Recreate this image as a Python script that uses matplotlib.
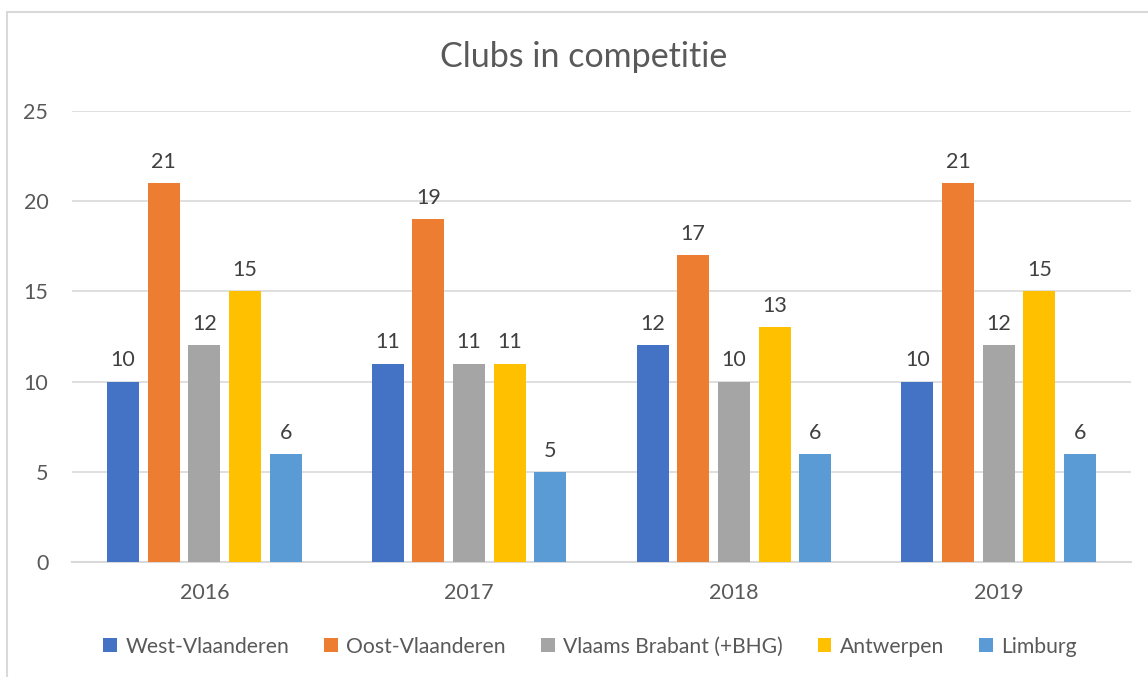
import matplotlib.pyplot as plt
import matplotlib.patches as patches
import numpy as np

plt.rcParams['font.family'] = ['Lato', 'DejaVu Sans']

# ------------------------------ data ------------------------------
years = ['2016', '2017', '2018', '2019']
provinces = ['West-Vlaanderen', 'Oost-Vlaanderen', 'Vlaams Brabant (+BHG)',
             'Antwerpen', 'Limburg']
west_vl = [10, 11, 12, 10]
oost_vl = [21, 19, 17, 21]
vl_brabant = [12, 11, 10, 12]
antwerpen = [15, 11, 13, 15]
limburg = [6, 5, 6, 6]
series = [west_vl, oost_vl, vl_brabant, antwerpen, limburg]
colors = ['#4472C4', '#ED7D31', '#A5A5A5', '#FFC000', '#5B9BD5']

text_col = '#595959'
grid_col = '#D9D9D9'

# ------------------------------ figure ------------------------------
fig = plt.figure(figsize=(11.48, 6.77), dpi=100)
ax = fig.add_axes([0.0627, 0.1699, 0.9225, 0.6662])

x = np.arange(len(years))
step = 0.1536
width = 0.121
for k, (vals, col, name) in enumerate(zip(series, colors, provinces)):
    pos = x + (k - 2) * step
    bars = ax.bar(pos, vals, width, color=col, label=name, zorder=3)
    for b, v in zip(bars, vals):
        ax.annotate(f'{v}', (b.get_x() + b.get_width() / 2, v),
                    xytext=(0, 8), textcoords='offset points',
                    ha='center', va='bottom', fontsize=15.5, color='#404040')

ax.set_xlim(-0.5, len(years) - 0.5)
ax.set_ylim(0, 25)
ax.set_yticks(range(0, 26, 5))
ax.set_xticks(x)
ax.set_xticklabels(years)
ax.yaxis.grid(True, color=grid_col, linewidth=1.2, zorder=0)
ax.tick_params(axis='both', length=0, labelsize=15.5, colors=text_col)
ax.tick_params(axis='x', pad=15)
ax.tick_params(axis='y', pad=17)
for s in ['top', 'right', 'left']:
    ax.spines[s].set_visible(False)
ax.spines['bottom'].set_color(grid_col)
ax.spines['bottom'].set_linewidth(1.5)

fig.text(0.5087, 0.916, 'Clubs in competitie', ha='center', va='center',
         fontsize=24.5, color=text_col)

fig.legend(loc='center', bbox_to_anchor=(0.514, 0.045), ncol=5, frameon=False,
           fontsize=15.2, labelcolor=text_col, handlelength=0.65,
           handleheight=0.65, handletextpad=0.4, columnspacing=1.65)

# chart border (cut off at right and bottom)
fig.patches.append(patches.Rectangle((7 / 1148, -0.1), 1.2, 0.1 + 665 / 677,
                                     transform=fig.transFigure, fill=False,
                                     edgecolor=grid_col, linewidth=1.5))

fig.savefig('out.png', dpi=100)
